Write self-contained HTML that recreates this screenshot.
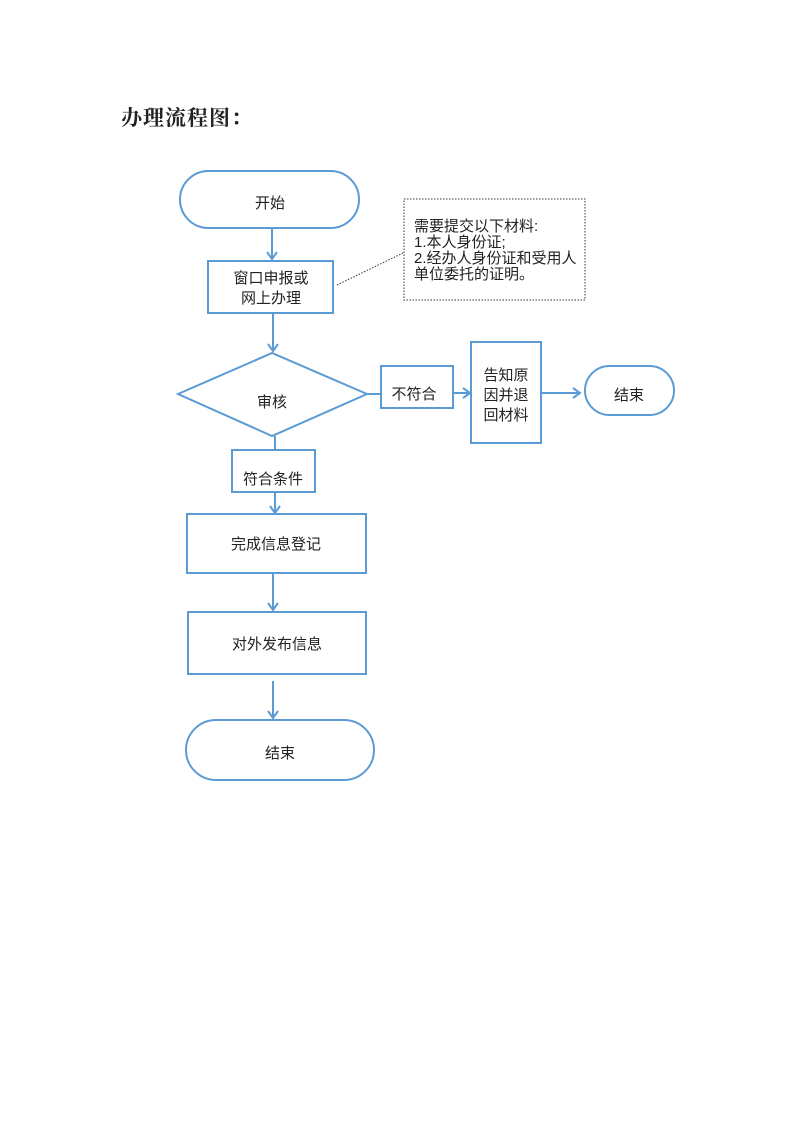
<!DOCTYPE html>
<html><head><meta charset="utf-8"><style>
html,body{margin:0;padding:0;background:#fff;}
svg{display:block;}
text{font-family:"Liberation Sans","Noto Sans CJK SC",sans-serif;fill:#222;}
</style></head><body>
<svg width="794" height="1123" viewBox="0 0 794 1123" xmlns="http://www.w3.org/2000/svg">
<defs>
<marker id="a" markerWidth="12" markerHeight="12" refX="10" refY="6" orient="auto" markerUnits="userSpaceOnUse">
<path d="M3,1 L10,6 L3,11" fill="none" stroke="#5b9bd5" stroke-width="2"/>
</marker>
</defs>
<text x="121" y="125" style="font-family:'Noto Serif CJK SC','Liberation Serif',serif;font-weight:bold;font-size:21px;letter-spacing:1px">办理流程图：</text>
<g fill="none" stroke="#5b9bd5" stroke-width="2">
<rect x="180" y="171" width="179" height="57" rx="28.5"/>
<rect x="208" y="261" width="125" height="52"/>
<polygon points="178,394 272,353 367,394 272,436"/>
<rect x="381" y="366" width="72" height="42"/>
<rect x="471" y="342" width="70" height="101"/>
<rect x="585" y="366" width="89" height="49" rx="24.5"/>
<rect x="232" y="450" width="83" height="42"/>
<rect x="187" y="514" width="179" height="59"/>
<rect x="188" y="612" width="178" height="62"/>
<rect x="186" y="720" width="188" height="60" rx="30"/>
<line x1="272" y1="228" x2="272" y2="259" marker-end="url(#a)"/>
<line x1="273" y1="313" x2="273" y2="351" marker-end="url(#a)"/>
<line x1="367" y1="394" x2="381" y2="394"/>
<line x1="453" y1="393" x2="470" y2="393" marker-end="url(#a)"/>
<line x1="541" y1="393" x2="580" y2="393" marker-end="url(#a)"/>
<line x1="275" y1="436" x2="275" y2="450"/>
<line x1="275" y1="492" x2="275" y2="513" marker-end="url(#a)"/>
<line x1="273" y1="573" x2="273" y2="610" marker-end="url(#a)"/>
<line x1="273" y1="681" x2="273" y2="718" marker-end="url(#a)"/>
</g>
<line x1="337" y1="285" x2="403" y2="253" stroke="#333" stroke-width="1" stroke-dasharray="1.5,1.5"/>
<rect x="404" y="199" width="181" height="101" fill="none" stroke="#333" stroke-width="1" stroke-dasharray="1.5,1.5"/>
<g font-size="15" text-anchor="middle">
<text x="270" y="208">开始</text>
<text x="271" y="283">窗口申报或</text>
<text x="271" y="303">网上办理</text>
<text x="272" y="407">审核</text>
<text x="414" y="399">不符合</text>
<text x="506" y="380">告知原</text>
<text x="506" y="400">因并退</text>
<text x="506" y="420">回材料</text>
<text x="629" y="400">结束</text>
<text x="273" y="484">符合条件</text>
<text x="276" y="549">完成信息登记</text>
<text x="277" y="649">对外发布信息</text>
<text x="280" y="758">结束</text>
</g>
<g font-size="15">
<text x="414" y="231">需要提交以下材料:</text>
<text x="414" y="247">1.本人身份证;</text>
<text x="414" y="263">2.经办人身份证和受用人</text>
<text x="414" y="279">单位委托的证明。</text>
</g>
</svg>
</body></html>
